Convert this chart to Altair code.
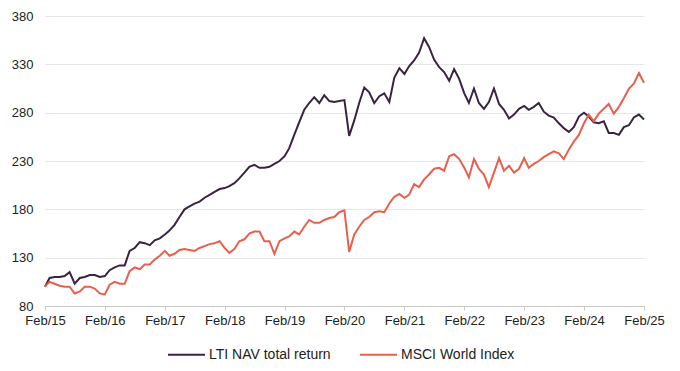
import altair as alt
import pandas as pd

# Monthly readings, Feb 2015 .. Feb 2025 (121 points)
lti_nav = [
    100, 109, 110, 110, 111, 115, 103, 109, 110, 112, 112, 110,
    111, 117, 120, 122, 122, 137, 140, 146, 145, 143, 148, 150,
    154, 158, 164, 172, 180, 183, 186, 188, 192, 195, 198, 201,
    202, 204, 207, 212, 218, 224, 226, 223, 223, 224, 227, 230,
    235, 243, 257, 270, 283, 290, 296, 290, 298, 292, 291, 292,
    293, 256, 272, 290, 306, 301, 290, 297, 300, 291, 316, 326,
    320, 328, 334, 342, 357, 348, 335, 327, 322, 313, 325, 315,
    300, 290, 305, 290, 284, 291, 305, 289, 283, 274, 278, 284,
    287, 283, 286, 290, 281, 277, 275, 269, 264, 260, 265, 276,
    280, 276, 270, 269, 271, 259, 259, 257, 265, 267, 275, 278,
    273,
]
msci_world = [
    100, 105, 103, 101, 100, 100, 93, 95, 100, 100, 98, 93,
    92, 102, 105, 103, 103, 116, 120, 118, 123, 123, 128, 132,
    137, 132, 134, 138, 139, 138, 137, 140, 142, 144, 145, 147,
    140, 135, 139, 147, 149, 155, 157, 157, 147, 147, 134, 147,
    150, 152, 157, 154, 162, 169, 166, 166, 169, 171, 172, 177,
    179, 136, 154, 162, 169, 172, 177, 178, 177, 186, 193, 196,
    192, 195, 206, 203, 211, 216, 222, 223, 220, 235, 237, 232,
    223, 213, 232, 222, 216, 203, 218, 233, 220, 225, 218, 222,
    233, 223, 227, 230, 234, 237, 240, 238, 232, 242, 250, 257,
    269, 278, 271, 279, 284, 289, 279, 286, 295, 305, 310, 321,
    311,
]
dates = pd.date_range("2015-02-01", "2025-02-01", freq="MS")
series_names = ["LTI NAV total return", "MSCI World Index"]
series_colors = ["#3a2342", "#e8604c"]
tick_years = list(range(2015, 2026))
y_ticks = [80, 130, 180, 230, 280, 330, 380]

df = pd.concat([
    pd.DataFrame({"date": dates, "value": lti_nav, "series": series_names[0]}),
    pd.DataFrame({"date": dates, "value": msci_world, "series": series_names[1]}),
])

font = "Liberation Sans"

chart = alt.Chart(df).mark_line(strokeWidth=2).encode(
    x=alt.X("date:T", title=None,
            scale=alt.Scale(domain=[alt.DateTime(year=2015, month=2, date=1),
                                    alt.DateTime(year=2025, month=2, date=1)]),
            axis=alt.Axis(values=[alt.DateTime(year=y, month=2, date=1) for y in tick_years],
                          format="%b/%y", grid=False, domainColor="#c8c8c8",
                          tickColor="#c8c8c8", tickSize=4, labelPadding=4,
                          labelFontSize=13, labelColor="#222222", labelFont=font,
                          labelFlush=False)),
    y=alt.Y("value:Q", title=None,
            scale=alt.Scale(domain=[80, 380], nice=False, zero=False),
            axis=alt.Axis(values=y_ticks, domain=False, ticks=False, grid=True,
                          gridColor="#e6e6e6", labelPadding=12, labelFontSize=13,
                          labelColor="#222222", labelFont=font)),
    color=alt.Color("series:N", title=None,
                    scale=alt.Scale(domain=series_names, range=series_colors),
                    legend=alt.Legend(orient="none", legendX=122, legendY=319,
                                      direction="horizontal", symbolType="stroke",
                                      symbolSize=1369, symbolStrokeWidth=2,
                                      labelFontSize=14, labelFont=font,
                                      labelColor="#222222", labelOffset=3,
                                      columnPadding=25)),
).properties(
    width=599, height=290,
    autosize=alt.AutoSizeParams(type="none"),
    padding={"left": 37, "top": 8, "right": 28, "bottom": 57},
).configure_view(stroke=None)

chart.save("out.html", embed_options={"renderer": "svg", "actions": False})
